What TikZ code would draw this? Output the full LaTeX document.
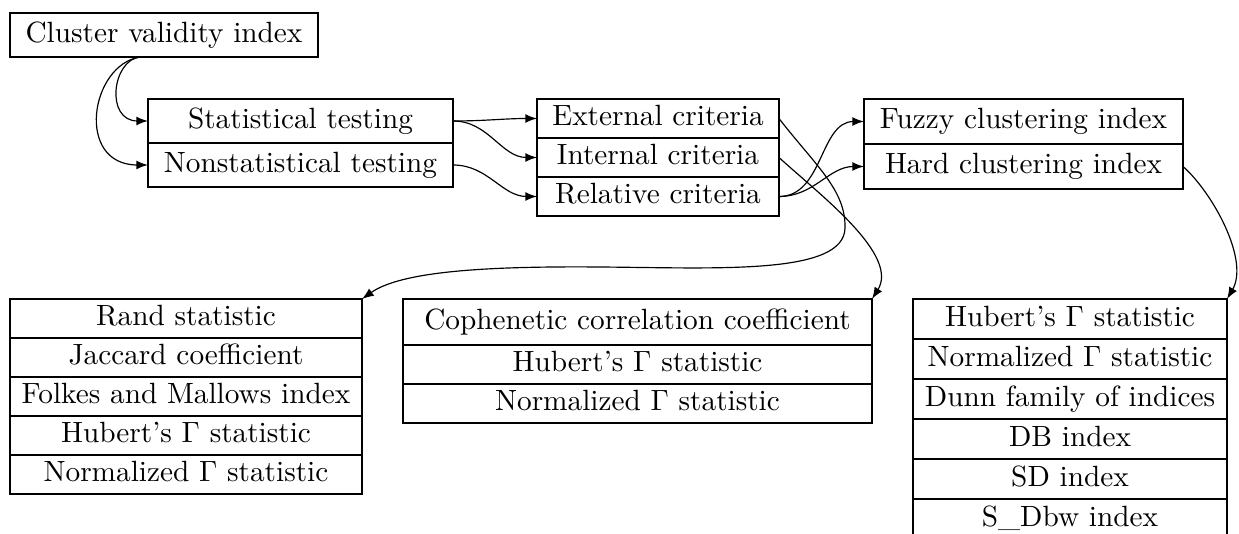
\documentclass[tikz,border=0pt]{standalone}
\usepackage{xcolor}
\usetikzlibrary{arrows}
\usetikzlibrary{positioning}
\usetikzlibrary{math}

\begin{document}
\begin{tikzpicture}[
cell/.style={draw, semithick, outer sep=0pt, inner sep=0pt, text height=7pt, text depth=2pt, minimum width=#1, minimum height=0.468cm},
link/.style={-latex, thin},
]
\tikzmath{
\wcvi=3.696;
\wtest=3.66;
\wcrit=2.904;
\wclu=3.828;
\wext=4.224;
\wint=5.628;
\whrd=3.768;
\ytab=-3.588;
}
\path[use as bounding box, clip] (0,0) rectangle (14.868,-6.408);

% top part
\node[cell=\wcvi cm, minimum height=0.528cm] (cvi) at (1.968,-0.42) {Cluster validity index};

\node[cell=\wtest cm, minimum height=0.528cm, anchor=north] (stat) at (3.606,-1.188) {Statistical testing};
\node[cell=\wtest cm, minimum height=0.528cm, below=0pt of stat] (nonstat) {Nonstatistical testing};

\node[cell=\wcrit cm, anchor=north] (ext) at (7.896,-1.188) {External criteria};
\node[cell=\wcrit cm, below=0pt of ext] (int) {Internal criteria};
\node[cell=\wcrit cm, below=0pt of int] (rel) {Relative criteria};

\node[cell=\wclu cm, minimum height=0.54cm, anchor=north] (fuzzy) at (12.282,-1.188) {Fuzzy clustering index};
\node[cell=\wclu cm, minimum height=0.54cm, below=0pt of fuzzy] (hard) {Hard clustering index};

% tables
\node[cell=\wext cm, anchor=north] (ext1) at (2.232,\ytab) {Rand statistic};
\node[cell=\wext cm, below=0pt of ext1] (ext2) {Jaccard coefficient};
\node[cell=\wext cm, below=0pt of ext2] (ext3) {Folkes and Mallows index};
\node[cell=\wext cm, below=0pt of ext3] (ext4) {Hubert's $\Gamma$ statistic};
\node[cell=\wext cm, below=0pt of ext4] (ext5) {Normalized $\Gamma$ statistic};

\node[cell=\wint cm, minimum height=0.552cm, anchor=north] (int1) at (7.65,\ytab) {Cophenetic correlation coefficient};
\node[cell=\wint cm, below=0pt of int1] (int2) {Hubert's $\Gamma$ statistic};
\node[cell=\wint cm, below=0pt of int2] (int3) {Normalized $\Gamma$ statistic};

\node[cell=\whrd cm, minimum height=0.48cm, anchor=north] (hrd1) at (12.84,\ytab) {Hubert's $\Gamma$ statistic};
\node[cell=\whrd cm, minimum height=0.48cm, below=0pt of hrd1] (hrd2) {Normalized $\Gamma$ statistic};
\node[cell=\whrd cm, minimum height=0.48cm, below=0pt of hrd2] (hrd3) {Dunn family of indices};
\node[cell=\whrd cm, minimum height=0.48cm, below=0pt of hrd3] (hrd4) {DB index};
\node[cell=\whrd cm, minimum height=0.48cm, below=0pt of hrd4] (hrd5) {SD index};
\node[cell=\whrd cm, minimum height=0.48cm, below=0pt of hrd5] (hrd6) {S\_Dbw index};

% links
\draw[link] ([xshift=-0.288cm]cvi.south) .. controls +(-0.336,-0.036) and +(-0.516,0) .. (stat.west);
\draw[link] ([xshift=-0.288cm]cvi.south) .. controls +(-0.6,-0.096) and +(-0.876,0) .. (nonstat.west);

\draw[link] (stat.east) to[out=0, in=180] (ext.west);
\draw[link] (stat.east) to[out=0, in=180] (int.west);
\draw[link] (nonstat.east) to[out=0, in=180] (rel.west);

\draw[link] (rel.east) to[out=0, in=180] (fuzzy.west);
\draw[link] (rel.east) to[out=0, in=180] (hard.west);

\draw[link] (ext.east) .. controls (9.78,-1.98) and (10.152,-2.28) .. (10.14,-2.736)
  .. controls (10.128,-3.3) and (8.64,-3.216) .. (7.2,-3.204)
  .. controls (5.76,-3.192) and (4.8,-3.264) .. (ext1.north east);
\draw[link] (int.east) .. controls (9.84,-2.34) and (10.8,-3.06) .. (int1.north east);
\draw[link] (hard.east) .. controls (14.544,-2.304) and (15.0,-3.12) .. (hrd1.north east);

\end{tikzpicture}
\end{document}
